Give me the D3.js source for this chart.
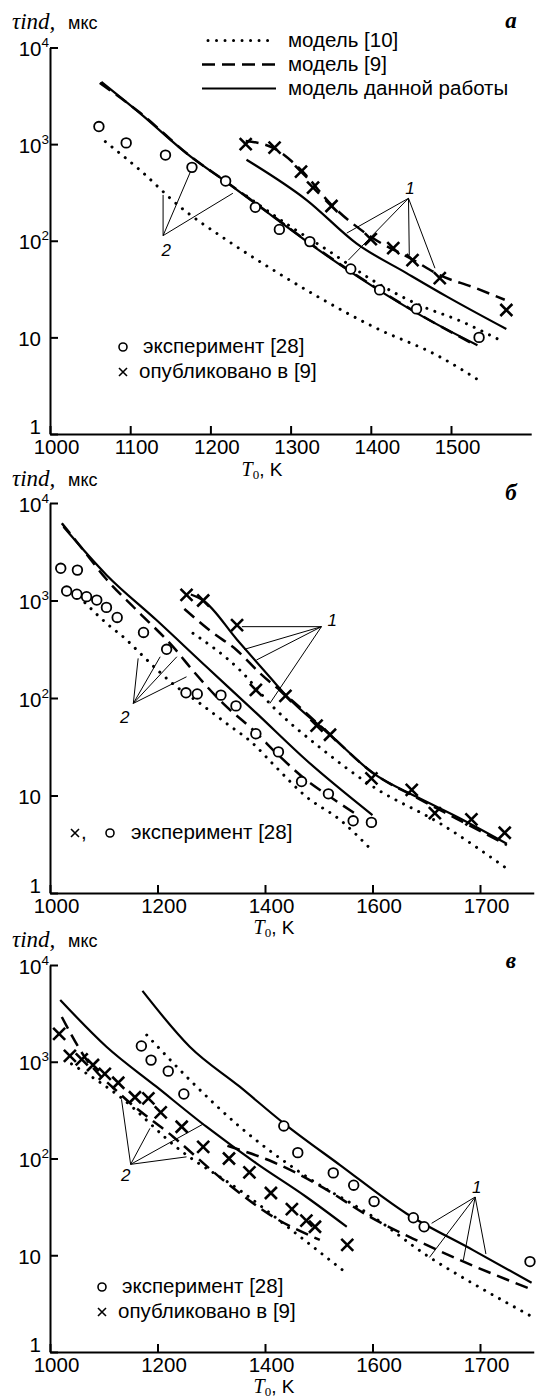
<!DOCTYPE html>
<html>
<head>
<meta charset="utf-8">
<script src="https://cdnjs.cloudflare.com/ajax/libs/d3/7.8.5/d3.min.js"></script>
<style>
body{margin:0;background:#fff;}
svg{display:block;background:#fff;}
text{fill:#000;font-family:"Liberation Sans",Arial,sans-serif;}
.axis path,.axis line{stroke:#000;stroke-width:2;}
.axis text{font-size:20.5px;font-family:"Liberation Sans",Arial,sans-serif;fill:#000;}
.dot{fill:none;stroke:#000;stroke-width:3;stroke-dasharray:0.01 8.5;stroke-linecap:round;}
.dash{fill:none;stroke:#000;stroke-width:2.5;stroke-dasharray:13 7;}
.solid{fill:none;stroke:#000;stroke-width:2.2;}
.ptr{stroke:#000;stroke-width:1;}
.circ{fill:#fff;stroke:#000;stroke-width:1.8;}
.cross{fill:none;stroke:#000;stroke-width:2.6;}
.lab{font-size:20.5px;}
.note{font-size:17px;font-style:italic;}
.serif{font-family:"Liberation Serif","DejaVu Serif",serif;font-style:italic;}
.sub{font-family:"Liberation Serif","DejaVu Serif",serif;font-style:normal;}
</style>
</head>
<body>
<svg id="chart" width="538" height="1400"></svg>
<script>
// оси
var yTicks = [1,10,100,1000,10000];
var xTicksA = [1000,1100,1200,1300,1400,1500];
var xLabelsA = ["1000","1100","1200","1300","1400","1500"];
var xTicksBC = [1000,1200,1400,1600,1800];
var xLabelsBC = ["1000","1200","1400","1600","1700"];
var modelNames = ["модель [10]","модель [9]","модель данной работы"];

// панель а: [T0, K ; tau, мкс]
var aExp = [[1061,1520],[1095,1030],[1144,770],[1177,575],[1219,415],[1256,222],[1286,131],[1324,98],[1375,51],[1411,31],[1457,19.7],[1535,10]];
var aPub = [[1244,1000],[1280,920],[1313,520],[1328,355],[1351,229],[1400,104],[1428,84],[1452,63],[1486,41],[1569,19.2]];
var aDot1 = [[1245,290],[1300,140],[1350,76],[1400,40],[1465,20.8],[1509,15.1],[1565,9]];
var aDash1 = [[1244,1080],[1280,900],[1313,540],[1351,235],[1400,110],[1452,64],[1486,44],[1528,33],[1567,24.5]];
var aSol1 = [[1245,690],[1320,264],[1382,94],[1445,46],[1495,26.4],[1569,12.2]];
var aDot2 = [[1069,1060],[1112,540],[1162,225],[1220,102],[1278,50],[1341,24.4],[1403,12.9],[1486,6.3],[1537,3.5]];
var aDash2 = [[1062,4300],[1112,2120],[1175,750],[1219,412],[1278,180],[1341,75],[1403,34],[1465,16.5],[1528,8.5]];
var aSol2 = [[1064,4400],[1112,2090],[1175,745],[1219,410],[1278,178],[1341,74],[1403,33.5],[1465,16.4],[1533,8.3]];
var aNote1 = {at:[1449,352], from:[1447,275], to:[[1370,120],[1372,63],[1448,71],[1480,52]]};
var aNote2 = {at:[1145,80], from:[1141,113], to:[[1141,298],[1177,563],[1228,310]]};

// панель б
var bExp = [[1020,2140],[1051,2050],[1031,1250],[1050,1160],[1068,1095],[1087,1010],[1105,850],[1125,670],[1174,470],[1217,316],[1253,113],[1274,110],[1318,107],[1346,83],[1383,43],[1425,28],[1468,13.9],[1518,10.4],[1564,5.5],[1598,5.3]];
var bPub = [[1254,1140],[1285,1000],[1348,560],[1383,121],[1438,105],[1496,52],[1521,42],[1598,15],[1673,11.4],[1716,6.6],[1784,5.7],[1846,4.15]];
var bDot1 = [[1266,461],[1353,194],[1415,81],[1508,29.3],[1601,12.3],[1725,5.2],[1855,1.7]];
var bDash1 = [[1250,820],[1300,480],[1347,311],[1391,179],[1446,99],[1521,42],[1601,17],[1682,9.5],[1756,5.8],[1850,3.1]];
var bSol1 = [[1262,1150],[1285,1000],[1348,396],[1415,150],[1440,105],[1521,42],[1601,17],[1682,9.7],[1756,6.1],[1850,3.2]];
var bDot2 = [[1065,950],[1105,584],[1143,393],[1167,290],[1235,131],[1279,88],[1328,55],[1378,34],[1415,21],[1477,9.7],[1540,5.6],[1600,2.7]];
var bDash2 = [[1022,6200],[1060,3400],[1105,1650],[1161,800],[1230,330],[1268,185],[1322,88],[1378,47],[1428,25],[1477,14.4],[1521,9.7],[1570,6.4]];
var bSol2 = [[1025,5700],[1105,1830],[1198,630],[1291,209],[1384,70],[1477,23],[1600,6.3]];
var bNote1 = {at:[1525,631], from:[1505,539], to:[[1357,539],[1361,315],[1384,245],[1409,88]]};
var bNote2 = {at:[1139,63.6], from:[1155,88], to:[[1164,255],[1205,265],[1236,265],[1254,165]]};

// панель в
var cExp = [[1170,1455],[1188,1040],[1220,800],[1249,464],[1435,217],[1461,115],[1527,71],[1565,53],[1603,36],[1676,24.4],[1696,19.7],[1893,8.6]];
var cPub = [[1017,1940],[1037,1150],[1059,1060],[1080,925],[1102,750],[1127,607],[1158,430],[1183,419],[1206,300],[1245,213],[1285,132],[1333,100],[1371,72],[1411,44],[1450,30],[1477,22.8],[1493,19.7],[1553,12.8]];
var cDot1 = [[1180,1890],[1260,650],[1353,213],[1477,65],[1601,25],[1704,9.7],[1787,5.1],[1898,2.3]];
var cDash1 = [[1330,135],[1415,92],[1508,50],[1595,25],[1676,14.8],[1763,8.9],[1893,4.5]];
var cSol1 = [[1172,5400],[1260,1430],[1353,552],[1435,231],[1539,86],[1663,27],[1787,11.3],[1896,5.2]];
var cDot2 = [[1040,950],[1130,435],[1242,122],[1353,47],[1465,15.6],[1552,6.5]];
var cDash2 = [[1022,2900],[1062,1175],[1136,435],[1229,168],[1322,60],[1415,25],[1502,14.4]];
var cSol2 = [[1019,4350],[1105,1430],[1198,552],[1291,213],[1384,89],[1477,40],[1552,19.7]];
var cNote1 = {at:[1794,51], from:[1791,40], to:[[1710,21.4],[1706,9.5],[1769,8.9],[1811,10.3]]};
var cNote2 = {at:[1141,67.5], from:[1150,87], to:[[1133,409],[1186,205],[1285,227],[1254,104]]};

var svg = d3.select("#chart");
var crossPath = "M-6,-6L6,6M-6,6L6,-6";
var crossSmall = "M-4,-4L4,4M-4,4L4,-4";

var panels = [
	{letter:"а", x0:50, x1:531.2, xMax:1600, y0:434, y1:47.5, xt:xTicksA, xl:xLabelsA,
	 yTitle:29, letterY:28, xTitleX:262, xTitleY:476,
	 dot:[aDot1,aDot2], dash:[aDash1,aDash2], solid:[aSol1,aSol2], exp:aExp, pub:aPub, notes:[[aNote1,"1"],[aNote2,"2"]]},
	{letter:"б", x0:50, x1:533.75, xMax:1900, y0:893, y1:503, xt:xTicksBC, xl:xLabelsBC,
	 yTitle:486, letterY:500, xTitleX:274, xTitleY:934,
	 dot:[bDot1,bDot2], dash:[bDash1,bDash2], solid:[bSol1,bSol2], exp:bExp, pub:bPub, notes:[[bNote1,"1"],[bNote2,"2"]]},
	{letter:"в", x0:50, x1:533.75, xMax:1900, y0:1352, y1:965, xt:xTicksBC, xl:xLabelsBC,
	 yTitle:947, letterY:968, xTitleX:274, xTitleY:1393,
	 dot:[cDot1,cDot2], dash:[cDash1,cDash2], solid:[cSol1,cSol2], exp:cExp, pub:cPub, notes:[[cNote1,"1"],[cNote2,"2"]]}
];

function drawPanel(p){
	var x = d3.scaleLinear().domain([1000,p.xMax]).range([p.x0,p.x1]);
	var y = d3.scaleLog().domain([1,10000]).range([p.y0,p.y1]);
	var line = d3.line()
		.x(function(d){return x(d[0])})
		.y(function(d){return y(d[1])})
		.curve(d3.curveMonotoneX);
	var g = svg.append("g");

	// ось Y, метки внутрь
	g.append("g")
		.attr("class","axis")
		.attr("transform","translate("+p.x0+",0)")
		.call(d3.axisLeft(y).tickValues(yTicks).tickSizeInner(-8).tickSizeOuter(0).tickFormat(function(){return ""}))
		.selectAll(".tick text")
		.each(function(d){
			var t = d3.select(this);
			var k = Math.round(Math.log10(d));
			t.attr("dy",null).attr("y",8);
			if(k<2){
				t.attr("x",-9).text(d);
				if(k==0) t.attr("y",-1);
			}else{
				t.attr("x",-1).text("10");
				t.append("tspan").attr("dy",-9).attr("font-size",13.5).text(k);
			}
		});

	// ось X
	g.append("g")
		.attr("class","axis")
		.attr("transform","translate(0,"+p.y0+")")
		.call(d3.axisBottom(x).tickValues(p.xt).tickSizeInner(-8).tickSizeOuter(0).tickFormat(function(d,i){return p.xl[i]}))
		.selectAll(".tick text")
		.attr("y",20).attr("dy",null).attr("dx",6);

	// подписи осей
	var ty = g.append("text").attr("x",12).attr("y",p.yTitle);
	ty.append("tspan").attr("class","serif").attr("font-size",23).text("τind,");
	ty.append("tspan").attr("x",68).attr("font-size",18).text("мкс");

	var tx = g.append("text").attr("x",p.xTitleX).attr("y",p.xTitleY).attr("text-anchor","middle");
	tx.append("tspan").attr("class","serif").attr("font-size",20).text("T");
	tx.append("tspan").attr("class","sub").attr("font-size",13).attr("dy",3).text("0");
	tx.append("tspan").attr("font-size",19).attr("dy",-3).text(", K");

	g.append("text")
		.attr("x",511).attr("y",p.letterY)
		.attr("text-anchor","middle")
		.attr("class","serif")
		.attr("font-weight","bold")
		.attr("font-size",23)
		.text(p.letter);

	// выноски 1 и 2
	p.notes.forEach(function(n){
		var note = n[0];
		g.selectAll(null)
			.data(note.to)
			.enter()
			.append("line")
			.attr("class","ptr")
			.attr("x1",x(note.from[0])).attr("y1",y(note.from[1]))
			.attr("x2",function(d){return x(d[0])})
			.attr("y2",function(d){return y(d[1])});
		g.append("text")
			.attr("class","note")
			.attr("x",x(note.at[0])).attr("y",y(note.at[1]))
			.attr("dy","0.35em")
			.attr("text-anchor","middle")
			.text(n[1]);
	});

	// кривые
	p.dot.forEach(function(s){ g.append("path").attr("class","dot").attr("d",line(s)); });
	p.dash.forEach(function(s){ g.append("path").attr("class","dash").attr("d",line(s)); });
	p.solid.forEach(function(s){ g.append("path").attr("class","solid").attr("d",line(s)); });

	// точки
	g.selectAll(null)
		.data(p.pub)
		.enter()
		.append("path")
		.attr("class","cross")
		.attr("d",crossPath)
		.attr("transform",function(d){return "translate("+x(d[0])+","+y(d[1])+")"});
	g.selectAll(null)
		.data(p.exp)
		.enter()
		.append("circle")
		.attr("class","circ")
		.attr("r",4.8)
		.attr("cx",function(d){return x(d[0])})
		.attr("cy",function(d){return y(d[1])});
}

panels.forEach(drawPanel);

// легенда моделей (панель а)
var leg = svg.append("g");
var legY = [40.5,64.5,88.5];
var legCls = ["dot","dash","solid"];
leg.selectAll("line")
	.data(modelNames)
	.enter()
	.append("line")
	.attr("class",function(d,i){return legCls[i]})
	.attr("x1",function(d,i){return i==0?208:202})
	.attr("x2",function(d,i){return i==0?269:276})
	.attr("y1",function(d,i){return legY[i]})
	.attr("y2",function(d,i){return legY[i]});
leg.selectAll("text")
	.data(modelNames)
	.enter()
	.append("text")
	.attr("class","lab")
	.attr("x",288)
	.attr("y",function(d,i){return legY[i]+6})
	.text(function(d){return d});

// легенды точек
function legCirc(cx,cy){
	svg.append("circle").attr("cx",cx).attr("cy",cy).attr("r",4).attr("fill","#fff").attr("stroke","#000").attr("stroke-width",1.6);
}
function legCross(cx,cy){
	svg.append("path").attr("d",crossSmall).attr("fill","none").attr("stroke","#000").attr("stroke-width",1.6)
		.attr("transform","translate("+cx+","+cy+")");
}
function legText(tx,ty,s){
	svg.append("text").attr("class","lab").attr("x",tx).attr("y",ty).text(s);
}

legCirc(123,347); legText(143,353,"эксперимент [28]");
legCross(123,372); legText(139,378,"опубликовано в [9]");

legCross(75,833); legText(81,839,","); legCirc(110,833); legText(131,839,"эксперимент [28]");

legCirc(102,1287); legText(122,1293,"эксперимент [28]");
legCross(102,1312); legText(118,1318,"опубликовано в [9]");
</script>
</body>
</html>
